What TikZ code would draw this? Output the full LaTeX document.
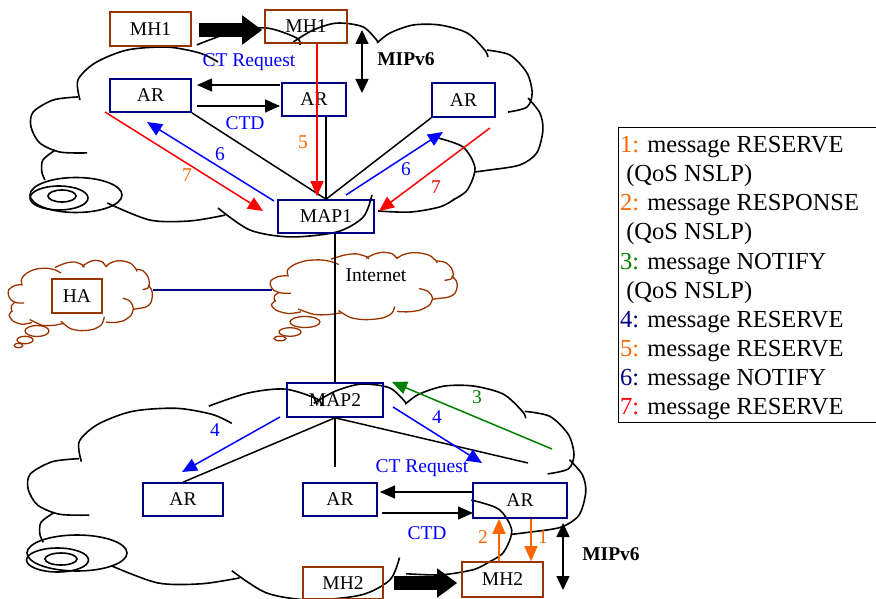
\documentclass[tikz,border=0pt]{standalone}
\usepackage{fontspec}
\setmainfont{Liberation Serif}
\usetikzlibrary{arrows.meta,calc}
\definecolor{navyc}{RGB}{0,0,128}
\definecolor{brownc}{RGB}{153,51,0}
\definecolor{bluec}{RGB}{0,0,255}
\definecolor{orangec}{RGB}{255,102,0}
\definecolor{greenc}{RGB}{0,128,0}
\definecolor{redc}{RGB}{255,0,0}
\newcommand\cloudlobes{%
 \draw plot[smooth] coordinates {(9.7,36.1)(9.3,26.9)(12.6,19.0)(18.8,13.0)(26.6,11.6)(33.0,14.4)(36.5,18.5)};
 \draw plot[smooth] coordinates {(32.4,10.6)(39.4,4.6)(46.0,2.8)(51.8,7.4)(52.4,10.6)};
 \draw plot[smooth] coordinates {(51.1,9.3)(55.0,3.7)(59.6,0.5)(64.7,2.3)(67.6,9.3)};
 \draw plot[smooth] coordinates {(67.4,9.7)(69.9,5.1)(74.4,1.4)(79.6,1.4)(84.9,5.1)(88.3,13.0)(88.9,16.2)};
 \draw plot[smooth] coordinates {(88.7,13.0)(93.2,15.3)(96.5,23.6)(97.5,32.9)(96.5,39.4)(92.8,41.7)};
 \draw plot[smooth] coordinates {(96.7,35.2)(99.0,42.1)(99.6,50.0)(98.4,60.6)(95.1,66.2)(89.3,68.5)(86.4,69.4)};
 \draw plot[smooth] coordinates {(79.2,53.7)(84.1,57.9)(86.4,67.6)(84.9,77.8)(82.1,82.4)};
 \draw plot[smooth] coordinates {(82.5,81.9)(79.6,85.6)(73.8,88.0)(67.6,87.5)};
 \draw plot[smooth] coordinates {(66.4,80.1)(64.7,90.3)(59.6,97.2)(50.5,99.5)(42.7,96.3)(36.5,86.1)};
 \draw plot[smooth] coordinates {(15.0,83.8)(23.3,91.7)(31.1,92.1)(37.9,89.4)};
 \draw plot[smooth] coordinates {(4.9,59.3)(2.5,63.9)(2.3,69.4)(2.9,73.1)};
 \draw plot[smooth] coordinates {(9.3,34.7)(4.5,36.1)(0.6,41.7)(0.2,48.6)(1.9,56.0)(5.8,60.2)(11.1,60.6)};
}
\newcommand\cloudfoot{%
 \draw plot[smooth] coordinates {(2.9,71.5)(0.8,78)(3.5,86)(10,90.5)(16.5,88)};
}
\begin{document}
\begin{tikzpicture}[x=1pt,y=-1pt,
  font=\fontsize{19.5}{23}\selectfont,
  nbox/.style={draw=navyc,line width=1.6pt,inner sep=0pt},
  bbox/.style={draw=brownc,line width=1.6pt,inner sep=0pt},
  link/.style={line width=1.5pt},
  msg/.style={line width=1.5pt,-{Triangle[length=15pt,width=13pt]}},
  dbl/.style={line width=1.5pt,{Triangle[length=14pt,width=13pt]}-{Triangle[length=14pt,width=13pt]}},
  fat/.style={line width=14pt,-{Triangle[length=20pt,width=28pt]}},
  lbl/.style={inner sep=0pt},
  cloudline/.style={line width=1.6pt},
  legtext/.style={inner sep=0pt,anchor=base west,font=\fontsize{24.5}{29}\selectfont}]
\useasboundingbox (0,0) rectangle (876,599);

% clouds
\begin{scope}[shift={(30,22)},xscale=5.15,yscale=2.16,cloudline]
 \cloudlobes
\end{scope}
\draw[cloudline] (76,195) ellipse (46 and 17.5);
\draw[cloudline] (59,198) ellipse (29 and 12);
\draw[cloudline] (62,196) ellipse (14 and 6);

\begin{scope}[shift={(27,383)},xscale=5.61,yscale=2.18,cloudline]
 \cloudlobes
\end{scope}
\draw[cloudline] (77,553) ellipse (50 and 18);
\draw[cloudline] (57.5,560) ellipse (31 and 12);
\draw[cloudline] (61,559) ellipse (16 and 6);

\begin{scope}[shift={(8,260)},xscale=1.45,yscale=0.71,brownc,line width=1.3pt]
 \cloudlobes \cloudfoot
\end{scope}
\draw[brownc,line width=1.3pt] (37,331) ellipse (12 and 5.5);
\draw[brownc,line width=1.3pt] (25,340) ellipse (8 and 3.7);
\draw[brownc,line width=1.3pt] (18.5,345.5) ellipse (4.3 and 2.2);

\begin{scope}[shift={(270,252)},xscale=1.88,yscale=0.68,brownc,line width=1.3pt]
 \cloudlobes \cloudfoot
\end{scope}
\draw[brownc,line width=1.3pt] (305,322) ellipse (15 and 5.5);
\draw[brownc,line width=1.3pt] (290,332) ellipse (11 and 4.3);
\draw[brownc,line width=1.3pt] (280,338.5) ellipse (6 and 2.3);

% boxes
\node[bbox,minimum width=81pt,minimum height=34pt] (mh1a) at (150.5,29) {MH1};
\node[bbox,minimum width=82pt,minimum height=33pt] (mh1b) at (306,26.5) {MH1};
\node[nbox,minimum width=81pt,minimum height=33pt] (artl) at (150.5,95.5) {AR};
\node[nbox,minimum width=64pt,minimum height=33pt] (artm) at (314,99.5) {AR};
\node[nbox,minimum width=63pt,minimum height=34pt] (artr) at (463.5,100) {AR};
\node[nbox,minimum width=96pt,minimum height=33pt] (map1) at (326,216.5) {MAP1};
\node[bbox,minimum width=50pt,minimum height=34pt] (ha) at (77,296) {HA};
\node[nbox,minimum width=96pt,minimum height=34pt] (map2) at (335,400) {MAP2};
\node[nbox,minimum width=80pt,minimum height=33pt] (arbl) at (183,499.5) {AR};
\node[nbox,minimum width=74pt,minimum height=33pt] (arbm) at (340,499.5) {AR};
\node[nbox,minimum width=94pt,minimum height=35pt] (arbr) at (520,500.5) {AR};
\node[bbox,minimum width=80pt,minimum height=32pt] (mh2a) at (343,583) {MH2};
\node[bbox,minimum width=81pt,minimum height=35pt] (mh2b) at (502.5,579.5) {MH2};

% free ends
\coordinate (hae) at (153,290);
\coordinate (inw) at (272,290);
\coordinate (m2c) at (335,467);
\coordinate (m2r) at (528,463);

% links
\draw[link] (artl.south east) -- (map1.north);
\draw[link] (artm.south -| map1.north) -- (map1.north);
\draw[link] (artr.south west) -- (map1.north);
\draw[link] (map1.south -| map2.north) -- (map2.north);
\draw[link] (map2.south) -- (arbl.north);
\draw[link] (map2.south) -- (m2c);
\draw[link] (map2.south) -- (m2r);
\draw[link,navyc] (hae) -- (inw);

% handover arrows
\draw[fat] ($(mh1a.east)+(7,1)$) -- ($(mh1b.west)+(-2,3.5)$);
\draw[fat] ($(mh2a.east)+(10,0)$) -- ($(mh2b.west)+(-4,3.5)$);
\draw[dbl] (362,30) coordinate (mipa) -- (362,93) coordinate (mipb);
\draw[dbl] (563,523) coordinate (mipc) -- (563,590) coordinate (mipd);

% top messages
\coordinate (t1s) at (280,85);  \coordinate (t1e) at (197,85);
\coordinate (t2s) at (197,106); \coordinate (t2e) at (280,106);
\draw[msg] (t1s) -- (t1e);
\draw[msg] (t2s) -- (t2e);
\draw[msg,redc] ($(mh1b.south)+(11,0)$) -- ($(map1.north)+(-9,-3)$);
\coordinate (r7as) at (105,112); \coordinate (r7ae) at (263,211);
\coordinate (b6as) at (274,201); \coordinate (b6ae) at (147,122);
\coordinate (b6bs) at (346,195); \coordinate (b6be) at (443,132);
\coordinate (r7bs) at (490,128); \coordinate (r7be) at (379,211);
\draw[msg,redc] (r7as) -- (r7ae);
\draw[msg,bluec] (b6as) -- (b6ae);
\draw[msg,bluec] (b6bs) -- (b6be);
\draw[msg,redc] (r7bs) -- (r7be);

% bottom messages
\coordinate (u1s) at (472,492); \coordinate (u1e) at (380,492);
\coordinate (u2s) at (382,513); \coordinate (u2e) at (473,513);
\draw[msg] (u1s) -- (u1e);
\draw[msg] (u2s) -- (u2e);
\coordinate (b4as) at (280,417); \coordinate (b4ae) at (182,472);
\coordinate (b4bs) at (393,407); \coordinate (b4be) at (482,463);
\coordinate (g3s) at (552,449);  \coordinate (g3e) at (392,382);
\draw[msg,bluec] (b4as) -- (b4ae);
\draw[msg,bluec] (b4bs) -- (b4be);
\draw[msg,greenc] (g3s) -- (g3e);
\draw[msg,orangec] ($(mh2b.north)+(-3.5,0)$) -- ($(arbr.south)+(-21,0)$);
\draw[msg,orangec] ($(arbr.south)+(11,0)$) -- ($(mh2b.north)+(28.5,0)$);

% labels
\node[lbl,text=bluec] (lct1) at (249,62) {CT Request};
\node[lbl,text=bluec] (lctd1) at (245,123) {CTD};
\node[lbl,font=\fontsize{19.5}{23}\selectfont\bfseries] (lmip1) at (406,59) {MIPv6};
\node[lbl,text=orangec] (l5) at (303,142) {5};
\node[lbl,text=orangec] (l7a) at (187,175) {7};
\node[lbl,text=bluec] (l6a) at (220,154) {6};
\node[lbl,text=bluec] (l6b) at (406,169) {6};
\node[lbl,text=redc] (l7b) at (436,187) {7};
\node[lbl] (linet) at (376,275) {Internet};
\node[lbl,text=bluec] (l4a) at (215,430) {4};
\node[lbl,text=bluec] (l4b) at (437,417) {4};
\node[lbl,text=greenc] (l3) at (477,397) {3};
\node[lbl,text=bluec] (lct2) at (422,468) {CT Request};
\node[lbl,text=bluec] (lctd2) at (427,533) {CTD};
\node[lbl,text=orangec] (l2) at (483,537) {2};
\node[lbl,text=orangec] (l1) at (543,537) {1};
\node[lbl,font=\fontsize{19.5}{23}\selectfont\bfseries] (lmip2) at (611,554) {MIPv6};

% legend
\node[draw,line width=1.2pt,minimum width=262pt,minimum height=295pt,anchor=north west,inner sep=0pt] (legend) at (618,127) {};
\node[legtext] (lg1) at (620,153) {\textcolor{orangec}{1:} message RESERVE};
\node[legtext] (lg2) at (620,182) {\ (QoS NSLP)};
\node[legtext] (lg3) at (620,211) {\textcolor{orangec}{2:} message RESPONSE};
\node[legtext] (lg4) at (620,240) {\ (QoS NSLP)};
\node[legtext] (lg5) at (620,269) {\textcolor{greenc}{3:} message NOTIFY};
\node[legtext] (lg6) at (620,298) {\ (QoS NSLP)};
\node[legtext] (lg7) at (620,327) {\textcolor{navyc}{4:} message RESERVE};
\node[legtext] (lg8) at (620,356) {\textcolor{orangec}{5:} message RESERVE};
\node[legtext] (lg9) at (620,385) {\textcolor{navyc}{6:} message NOTIFY};
\node[legtext] (lg10) at (620,414) {\textcolor{redc}{7:} message RESERVE};
\end{tikzpicture}
\end{document}
